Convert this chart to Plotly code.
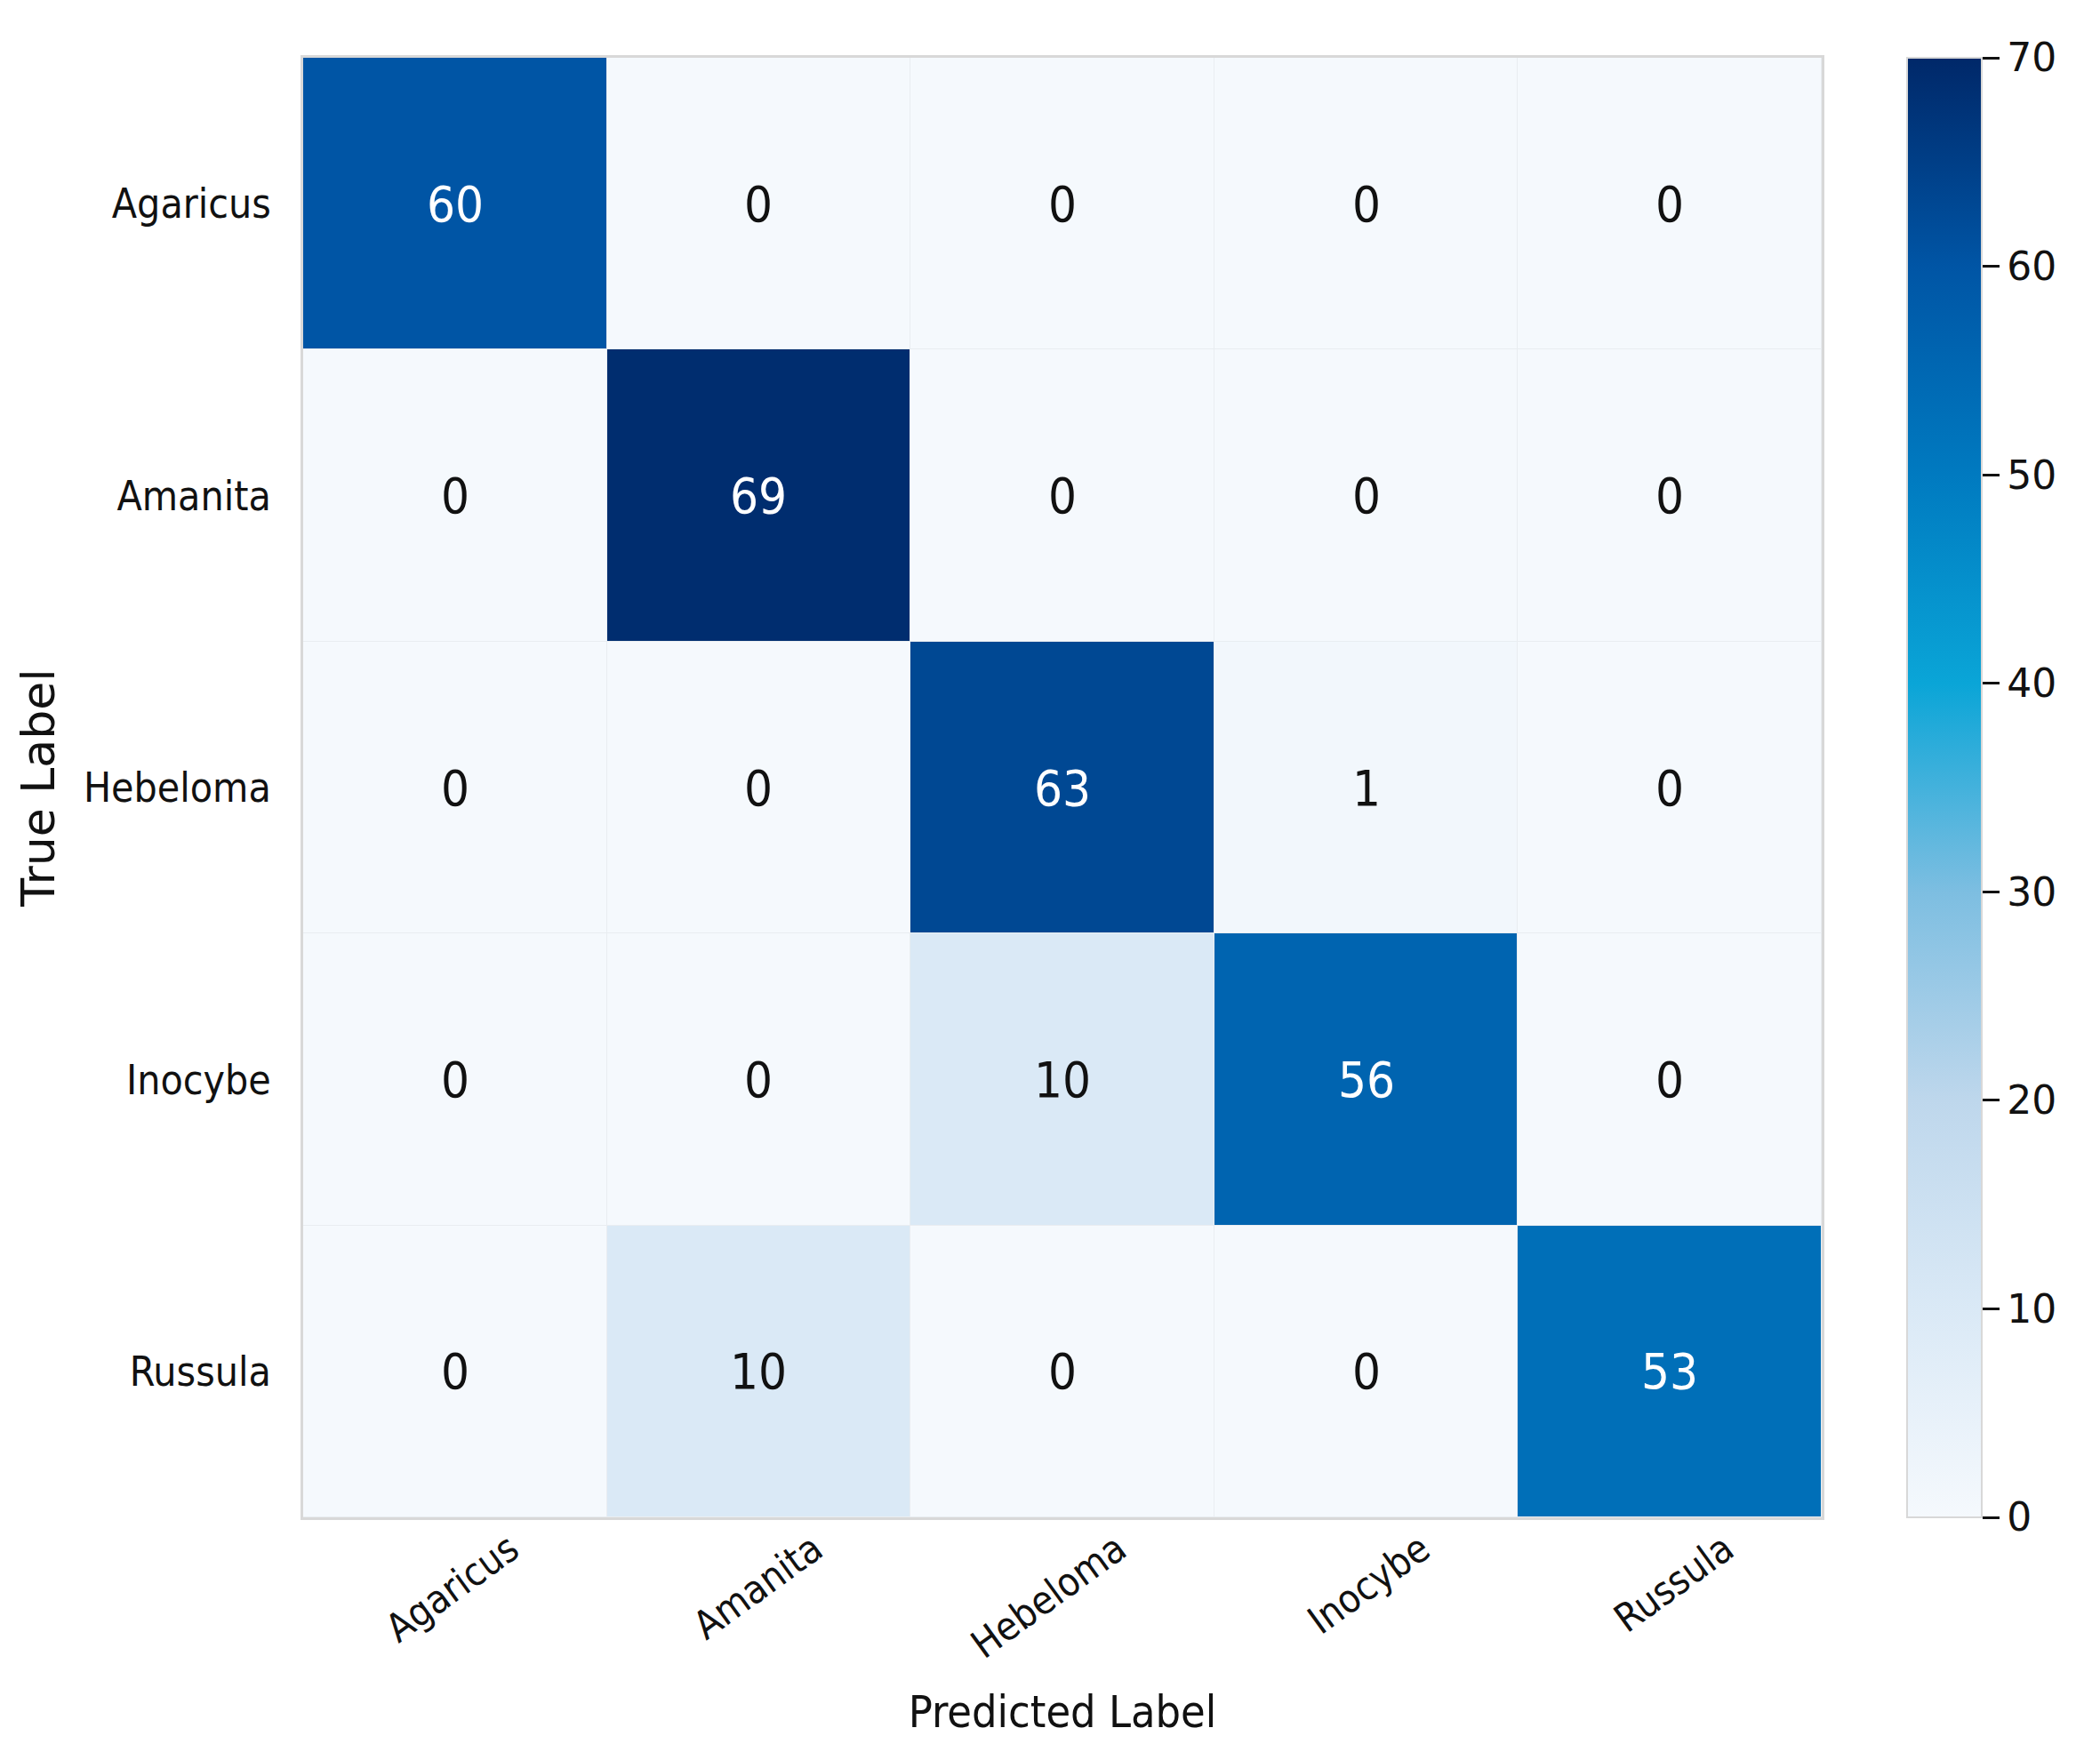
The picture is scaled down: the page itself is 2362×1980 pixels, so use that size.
import plotly.graph_objects as go

classes = ["Agaricus", "Amanita", "Hebeloma", "Inocybe", "Russula"]
true_labels = classes
pred_labels = classes
counts = [
    [60, 0, 0, 0, 0],
    [0, 69, 0, 0, 0],
    [0, 0, 63, 1, 0],
    [0, 0, 10, 56, 0],
    [0, 10, 0, 0, 53],
]
cbar_ticks = [0, 10, 20, 30, 40, 50, 60, 70]

FONT = "DejaVu Sans Condensed, DejaVu Sans"

colorscale = [
    [0.0, "rgb(245,249,253)"],
    [10/70, "rgb(218,233,246)"],
    [20/70, "rgb(190,215,236)"],
    [30/70, "rgb(125,190,225)"],
    [40/70, "rgb(10,165,215)"],
    [50/70, "rgb(0,122,192)"],
    [60/70, "rgb(0,85,165)"],
    [1.0, "rgb(0,40,105)"],
]

fig = go.Figure(go.Heatmap(
    z=counts, x=pred_labels, y=true_labels,
    zmin=0, zmax=70, colorscale=colorscale,
    xgap=1, ygap=1,
    colorbar=dict(
        x=1.0562, xanchor="left", xref="paper",
        y=0.5, yanchor="middle", len=1.0, lenmode="fraction",
        thickness=84, thicknessmode="pixels",
        outlinewidth=2, outlinecolor="#d8d8d8",
        tickmode="array", tickvals=cbar_ticks,
        ticks="outside", ticklen=19, tickwidth=3, tickcolor="#111",
        tickfont=dict(family="DejaVu Sans", size=44, color="#111"),
        xpad=0, ypad=0,
    ),
    hoverinfo="skip",
))

annotations = []
for i, row in enumerate(counts):
    for j, v in enumerate(row):
        annotations.append(dict(
            x=pred_labels[j], y=true_labels[i], text=str(v), showarrow=False,
            font=dict(family=FONT, size=56, color="white" if v > 35 else "#111"),
        ))

fig.update_layout(
    width=2362, height=1980,
    margin=dict(l=333, r=321, t=57, b=281),
    paper_bgcolor="white",
    plot_bgcolor="#e9edf1",
    font=dict(family=FONT, color="#111"),
    annotations=annotations,
    xaxis=dict(
        title=dict(text="Predicted Label", font=dict(size=50, family=FONT), standoff=34),
        tickangle=-36, tickfont=dict(size=44, family=FONT),
        ticklabelshift=62, ticklabelstandoff=-10,
        showgrid=False, zeroline=False, ticks="", ticklen=0,
        showline=True, linecolor="#d8d8d8", linewidth=3, mirror=True,
    ),
    yaxis=dict(
        title=dict(text="True Label", font=dict(size=52, family="DejaVu Sans"), standoff=16),
        autorange="reversed", tickfont=dict(size=46, family=FONT),
        showgrid=False, zeroline=False, ticks="outside", ticklen=24, tickcolor="rgba(0,0,0,0)",
        showline=True, linecolor="#d8d8d8", linewidth=3, mirror=True,
    ),
)

fig.write_html("out.html")
